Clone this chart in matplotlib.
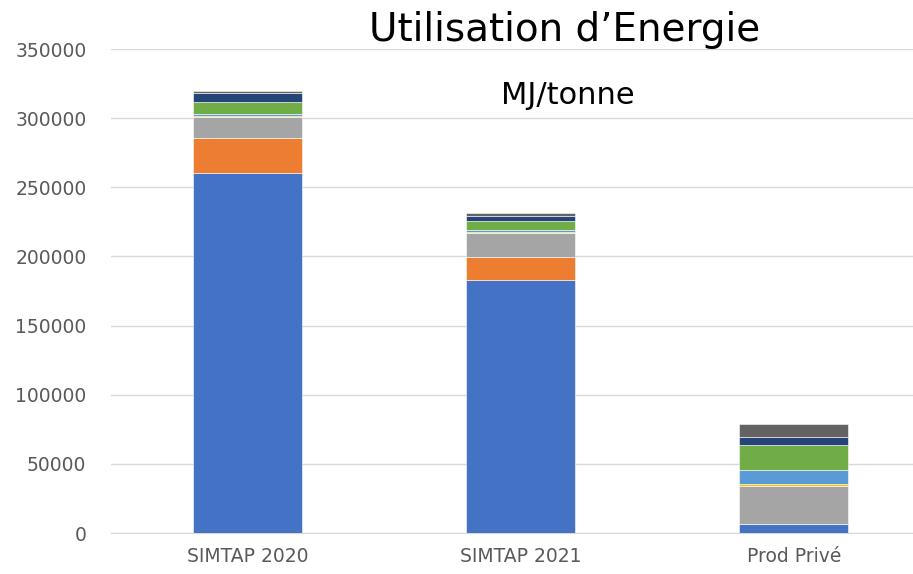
import matplotlib.pyplot as plt
import numpy as np

categories = ['SIMTAP 2020', 'SIMTAP 2021', 'Prod Privé']

# stacked segments, bottom to top (MJ/tonne)
seg_blue = [260000, 182700, 6300]
seg_orange = [26000, 16600, 0]
seg_gray = [15000, 18000, 27700]
seg_yellow = [500, 300, 1300]
seg_lightblue = [1500, 1500, 10200]
seg_green = [9000, 6500, 18000]
seg_navy = [6000, 3900, 6100]
seg_darkgray = [2000, 1700, 9100]

series = [seg_blue, seg_orange, seg_gray, seg_yellow,
          seg_lightblue, seg_green, seg_navy, seg_darkgray]
colors = ['#4472C4', '#ED7D31', '#A5A5A5', '#FFC000',
          '#5B9BD5', '#70AD47', '#264478', '#636363']

fig = plt.figure(figsize=(9.13, 5.74), dpi=100)
ax = fig.add_axes([0.122, 0.0714, 0.897, 0.8432])

x = np.arange(len(categories))
bottom = np.zeros(len(categories))
for vals, c in zip(series, colors):
    ax.bar(x, vals, 0.4, bottom=bottom, color=c, edgecolor='white', linewidth=0.4, zorder=3)
    bottom += np.array(vals)

ax.set_xlim(-0.5, 2.5)
ax.set_ylim(0, 350000)
ax.set_yticks(np.arange(0, 350001, 50000))
ax.set_yticklabels([str(v) for v in range(0, 350001, 50000)])
ax.set_xticks(x)
ax.set_xticklabels(categories)
ax.tick_params(axis='both', length=0, labelsize=13.5, labelcolor='#595959')
ax.tick_params(axis='y', pad=18)
ax.tick_params(axis='x', pad=10)
ax.grid(axis='y', color='#D9D9D9', linewidth=1, zorder=0)
for s in ['top', 'right', 'left']:
    ax.spines[s].set_visible(False)
ax.spines['bottom'].set_color('#D9D9D9')

fig.text(0.618, 0.947, 'Utilisation d’Energie', ha='center', va='center', fontsize=28, color='black')
fig.text(0.622, 0.834, 'MJ/tonne', ha='center', va='center', fontsize=22, color='black')

fig.savefig('out.png', dpi=100)
